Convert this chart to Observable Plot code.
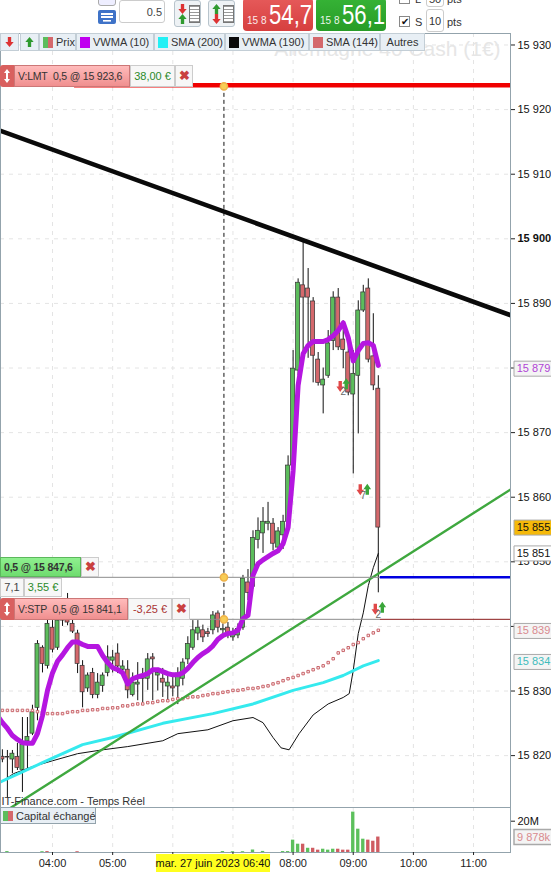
<!DOCTYPE html>
<html><head><meta charset="utf-8">
<script src="https://cdn.jsdelivr.net/npm/d3@7"></script>
<script src="https://cdn.jsdelivr.net/npm/@observablehq/plot@0.6"></script>
<style>
html,body{margin:0;padding:0;background:#fff}
#page{position:relative;width:551px;height:872px;overflow:hidden;font-family:"Liberation Sans",Arial,sans-serif;font-size:11px;color:#333}
#page svg.plot{position:absolute;left:0;background:transparent}
.b{position:absolute;box-sizing:border-box;white-space:nowrap;display:flex;align-items:center}
</style></head><body><div id="page"></div>
<script>
// ---------- data ----------
const candleTime=["03:10","03:15","03:20","03:25","03:30","03:35","03:40","03:45","03:50","03:55",
"04:00","04:05","04:10","04:15","04:20","04:25","04:30","04:35","04:40","04:45","04:50","04:55",
"05:00","05:05","05:10","05:15","05:20","05:25","05:30","05:35","05:40","05:45","05:50","05:55",
"06:00","06:05","06:10","06:15","06:20","06:25","06:30","06:35","06:40","06:45","06:50","06:55",
"07:00","07:05","07:10","07:15","07:20","07:25","07:30","07:35","07:40","07:45","07:50","07:55",
"08:00","08:05","08:10","08:15","08:20","08:25","08:30","08:35","08:40","08:45","08:50","08:55",
"09:00","09:05","09:10","09:15","09:20","09:25"];
const candleOpen=[15819.8,15819.8,15819.4,15819.8,15817.8,15822.2,15823.4,15827.4,15836.7,15833.9,
15839.8,15836.7,15842,15842,15840.4,15838.9,15833.9,15830.4,15832.8,15829.4,15830.8,15832.8,
15834.7,15835.8,15833.3,15833.3,15829.4,15831,15831.9,15831.9,15835.2,15832.4,15831.9,15830.7,
15830.7,15830.7,15831.9,15834.9,15836.7,15838.9,15839.4,15839.1,15839.4,15842,15839.4,15839.8,
15838.3,15838.6,15839.8,15846.8,15846.1,15853.4,15854.4,15855.9,15855.9,15852.2,15854.1,15856.2,
15864.9,15879.6,15892.8,15892.3,15890.3,15881.3,15877.3,15878.8,15884.2,15890.9,15884.4,15882.4,
15875.9,15878.8,15888.9,15892.3,15881.8,15876.8];
const candleHigh=[15820.9,15820.8,15820.8,15821.9,15825.9,15825.9,15827.8,15837.8,15837,15842.4,
15840.9,15843.2,15843.2,15845.1,15841.2,15839.4,15834.7,15832.8,15833.5,15832.7,15832.8,15837,
15836.3,15837.3,15834.7,15834.7,15832.8,15834.4,15833.5,15835.8,15835.8,15833.5,15833.5,15832.4,
15832.4,15833.6,15835,15838.4,15840.9,15840.9,15840.2,15839.7,15842.3,15842.4,15840.4,15840.6,
15839.7,15840.4,15847.9,15848.8,15854.8,15856.8,15858.4,15859.2,15856.7,15855.3,15857.2,15866.4,
15882.7,15893.8,15899.6,15895.4,15890.9,15882.4,15880,15885.8,15891.8,15892.3,15887.3,15884.2,
15882.7,15890.4,15892.8,15893.8,15888.4,15878.8];
const candleLow=[15818.9,15813.5,15817.2,15817.7,15814.3,15818,15823.1,15825.4,15832.8,15833.4,
15835.9,15836.3,15840,15840.1,15838.9,15832.7,15827.4,15829.8,15828.8,15828.8,15829.8,15832.2,
15832.8,15832.7,15832.2,15828.8,15829.1,15828.5,15828.2,15830.1,15828.5,15830,15829,15828.5,
15829.1,15827.9,15830.8,15834.1,15836.3,15837.8,15837.5,15838.3,15838.7,15839,15838.4,15838.1,
15837.7,15838.1,15839.4,15844,15845.8,15852,15851.3,15854.8,15851.7,15851.4,15851.9,15854.8,
15864.1,15878.8,15881.5,15881.5,15877.7,15877.2,15872.9,15878.4,15882.7,15882.7,15879.9,15875.7,
15863.6,15869.8,15888.6,15880.8,15876.5,15845.2];
const candleClose=[15819.4,15819.7,15820.3,15818.1,15821.7,15822.9,15826.7,15837.3,15834.2,15840.4,
15836.4,15840.9,15840.9,15840.6,15839.2,15834.2,15829.8,15832.4,15829.4,15831.3,15832.4,15835.2,
15835.2,15833.8,15833.8,15830.1,15831.3,15831.3,15832.2,15834.9,15834.9,15832.8,15831.3,15831.3,
15830.4,15832.7,15834.4,15837.3,15839.4,15839.8,15838.3,15838.8,15841.7,15839.8,15839.6,15839,
15839,15839.6,15847.4,15845.2,15853.7,15854.8,15856.2,15856.2,15852.8,15854.7,15856.2,15864.9,
15879.9,15893.2,15890.9,15890.9,15881.9,15877.7,15878.2,15883.8,15890.9,15883.2,15882.8,15876.2,
15879.1,15888.9,15891.7,15881.3,15877.3,15855.3];

const lineTime=["03:05",...candleTime];
const vwma10=[15826.2,15825.1,15824.2,15823.1,15822.5,15822,15821.9,15821.9,15823.4,15826.2,15830.1,
15832.8,15834.6,15835.6,15836.7,15837.6,15837.6,15837.2,15836.9,15836.9,15836.9,15835.5,15834.4,
15833.6,15833.3,15832.8,15831.1,15831.9,15832.2,15832.4,15832.7,15833.3,15833.3,15833,15832.7,
15832.5,15832.5,15832.8,15833.5,15834.4,15835.2,15835.8,15836.3,15837,15838,15838.6,15838.9,
15839,15839.4,15841.2,15841.7,15847.9,15849.7,15850.3,15850.8,15851.3,15851.7,15852.8,15855.3,
15864.1,15877.3,15882.2,15883.5,15884.1,15884.1,15884.1,15884.4,15885,15885.8,15887,15884.7,
15881.1,15882.7,15883.8,15883.9,15883.5,15880.4];
const sma144=[15827,15827,15827,15827,15827,15827,15827,15827,15826.8,15826.7,15826.5,15826.5,15826.5,
15826.5,15826.7,15826.8,15826.8,15827,15827,15827.1,15827.1,15827.3,15827.3,15827.4,15827.4,15827.7,
15827.7,15827.9,15828,15828,15828.2,15828.2,15828.4,15828.5,15828.5,15828.7,15828.8,15828.8,15829,
15829.1,15829.1,15829.3,15829.4,15829.6,15829.6,15829.8,15829.9,15830.1,15830.1,15830.2,15830.4,
15830.4,15830.5,15830.7,15830.8,15831.1,15831.3,15831.6,15831.9,15832.1,15832.4,15832.7,15833,
15833.3,15833.6,15833.9,15834.4,15835,15835.9,15836.3,15836.7,15837.2,15837.5,15838.1,15838.6,
15839,15839.4];

const sma200Time=["03:05","03:30","03:50","04:30","05:00","05:50","06:40","07:20","08:00","08:30","08:50","09:10","09:25"];
const sma200=[15815.7,15817.5,15818.9,15821.7,15822.8,15825,15826.5,15828,15830.1,15831.3,15832.4,15833.9,15834.7];

const vwma190Time=["03:05","03:21","03:40","04:00","04:25","04:50","05:15","05:50","06:05","06:35","07:00","07:20","07:30","07:40","07:48","07:56","08:06","08:20","08:35","08:50","08:56","09:00","09:05","09:10","09:15","09:20","09:25"];
const vwma190=[15815.5,15817.2,15818.3,15819.2,15820.3,15820.9,15821.4,15822.3,15823.4,15824,15825.4,15825.9,15825.1,15822.8,15821.2,15820.9,15823.4,15826.3,15828,15829,15829.6,15833.2,15838.9,15842.1,15846.3,15849.1,15851.3];

const blackTrendTime=["03:05","11:40"], blackTrend=[15916.9,15888];
const greenTrendTime=["03:15","11:40"], greenTrend=[15811.6,15861.5];

const volumeTime=["03:15","03:50","03:55","04:25","06:50","07:00","07:10","07:20","07:30","07:50","07:55","08:00","08:05","08:10","08:15","08:20","08:25","08:30","08:35","08:40","08:45","08:50","08:55","09:00","09:05","09:10","09:15","09:20","09:25"];
const volumeValue=[0.6,0.5,0.6,0.5,0.6,0.5,0.5,1.6,0.7,0.6,0.6,7.9,5.3,5.3,2.7,2.7,1.5,2.1,1.5,2.1,2.1,1.5,1.5,25.8,14.9,8.5,7.9,7.2,9.878];
const volumeUp=[1,1,0,0,1,1,1,1,1,1,1,1,1,0,1,0,0,1,1,1,0,0,0,1,1,1,0,0,0];

const orderPrice=[15923.6,15847.6,15841.1];
const orderTime="06:51";
const priceTicks=[15930,15920,15910,15890,15880,15870,15860,15850,15840,15830,15820];
const hiddenPriceLabels=[15880,15840];
const boldTick=[15900];
const hourTicks=["04:00","05:00","06:00","07:00","08:00","09:00","10:00","11:00"];
const hiddenHourLabels=["06:00","07:00"];
const tagPrice=[15879.9,15855.3,15851.3,15839.3,15834.5];
const tagText=["15 879","15 855","15 851","15 839","15 834"];
const tagColor=["#b144d6","#111","#111","#d98a8f","#3fbcbc"];
const tagFill=["#f4f4f4","#f5b90a","#fff","#f4f4f4","#f4f4f4"];

const sellTime=["08:47","09:07","09:22"], sellPrice=[15878,15862,15843.5];
const buyTime=["08:53","09:14","09:29"], buyPrice=[15878.4,15862.1,15843.8];
const tradeTime=["08:50","09:10","09:25"], tradePrice=[15876.3,15860.2,15841.8], tradeCount=["2","7","2"];

// ---------- helpers ----------
const T=s=>new Date(`2023-06-27T${s}:00Z`);
const fmt=v=>hiddenPriceLabels.includes(v)?"":String(v).slice(0,2)+" "+String(v).slice(2);
const hourFmt=d=>{const s=d3.utcFormat("%H:%M")(d);return hiddenHourLabels.includes(s)?"":s;};
const candles=candleTime.map((t,i)=>({t:T(t),o:candleOpen[i],h:candleHigh[i],l:candleLow[i],c:candleClose[i]}));
const series=(ts,vs)=>ts.map((t,i)=>({t:T(t),v:vs[i]}));
const GREEN="#5cbd5c",RED="#d4686c",FRAME="#93a3ac",GRID="#e4e4e4";
const xDomain=[new Date("2023-06-27T03:08:07Z"),new Date("2023-06-27T11:36:52Z")];
const font="'Liberation Sans',Arial,sans-serif";
const min2=120000;
const arrowShape=dir=>({draw(c,l){const s=dir,h=l/2;
  c.moveTo(-1.7,s*h);c.lineTo(1.7,s*h);c.lineTo(1.7,0);c.lineTo(3.8,0);c.lineTo(0,-s*h);c.lineTo(-3.8,0);c.lineTo(-1.7,0);c.closePath();}});
const tagSymbol={draw(c){c.rect(-18.5,-7.5,38,15);}};
const gridXm=()=>Plot.ruleX(hourTicks,{x:T,stroke:GRID,strokeDasharray:"4,5"});

const main=Plot.plot({
  width:551,height:807,marginTop:33,marginBottom:0,marginLeft:0,marginRight:41,
  style:{fontFamily:font,fontSize:"11px",background:"transparent",color:"#222",overflow:"visible"},
  x:{type:"utc",domain:xDomain,axis:null},
  y:{domain:[15811.97,15931.78],axis:null},
  marks:[
    gridXm(),
    Plot.ruleY([...priceTicks,...boldTick],{y:d=>d,stroke:GRID,strokeDasharray:"4,5"}),
    Plot.text(["Allemagne 40 Cash (1€)"],{x:T("11:27"),y:15929.4,textAnchor:"end",fontSize:21,fill:"#e6e6e6"}),
    Plot.ruleX(candles,{x:"t",y1:"l",y2:"h",stroke:"#111",strokeWidth:1}),
    Plot.rect(candles,{x1:d=>new Date(+d.t-min2),x2:d=>new Date(+d.t+min2),y1:"o",y2:"c",
      fill:d=>d.c>=d.o?GREEN:RED,stroke:"#333",strokeWidth:.7}),
    Plot.lineY(series(vwma190Time,vwma190),{x:"t",y:"v",stroke:"#111",strokeWidth:1,clip:true}),
    Plot.lineY(series(sma200Time,sma200),{x:"t",y:"v",stroke:"#35eaee",strokeWidth:3,clip:true}),
    Plot.dot(series(lineTime,sma144),{x:"t",y:"v",symbol:"square",r:1.4,fill:"#fbeaea",stroke:"#c9666c",strokeWidth:1,clip:true}),
    Plot.lineY(series(greenTrendTime,greenTrend),{x:"t",y:"v",stroke:"#3fa83f",strokeWidth:2.4,clip:true}),
    Plot.lineY(series(lineTime,vwma10),{x:"t",y:"v",stroke:"#b516e0",strokeWidth:5,strokeLinejoin:"round",clip:true}),
    Plot.lineY(series(blackTrendTime,blackTrend),{x:"t",y:"v",stroke:"#0a0a0a",strokeWidth:4.6,clip:true}),
    // order lines
    Plot.ruleY([orderPrice[1],orderPrice[2]],{x1:xDomain[0],x2:T("09:27"),y:d=>d,stroke:"#8c8c8c",strokeWidth:1}),
    Plot.ruleY([orderPrice[0]],{x1:T("04:22"),x2:xDomain[1],y:d=>d,dy:-1,stroke:"#f00000",strokeWidth:4.5}),
    Plot.ruleY([orderPrice[1]],{x1:T("09:27"),x2:xDomain[1],y:d=>d,stroke:"#0000e0",strokeWidth:2.4}),
    Plot.ruleY([orderPrice[2]],{x1:T("09:27"),x2:xDomain[1],y:d=>d,stroke:"#8a1a1a",strokeWidth:1}),
    Plot.ruleX([T(orderTime)],{y1:orderPrice[0],y2:orderPrice[2],stroke:"#111",strokeDasharray:"4,3"}),
    Plot.dot(orderPrice,{x:T(orderTime),y:d=>d,r:3.6,fill:"#f8cd55",stroke:"#eeb24a"}),
    // trade markers
    Plot.vector(sellPrice,{x:(d,i)=>T(sellTime[i]),y:d=>d,length:11,anchor:"middle",shape:arrowShape(-1),fill:"#e04848",stroke:"none"}),
    Plot.vector(buyPrice,{x:(d,i)=>T(buyTime[i]),y:d=>d,length:11,anchor:"middle",shape:arrowShape(1),fill:"#3aa63a",stroke:"none"}),
    Plot.text(tradePrice,{x:(d,i)=>T(tradeTime[i]),y:d=>d,text:(d,i)=>tradeCount[i],fontSize:10,fill:"#666"}),
    Plot.text(["IT-Finance.com - Temps Réel"],{x:xDomain[0],dx:1,y:15812.9,textAnchor:"start",fill:"#333",fontSize:11}),
    Plot.frame({stroke:FRAME}),
    Plot.axisY({anchor:"right",ticks:priceTicks,tickFormat:fmt,tickSize:4,tickPadding:3,textAnchor:"start",label:null,fill:"#111",fontSize:11}),
    Plot.axisY({anchor:"right",ticks:boldTick,tickFormat:fmt,tickSize:4,tickPadding:3,textAnchor:"start",label:null,fill:"#111",fontSize:11,fontWeight:"bold"}),
    Plot.dot(tagPrice,{y:d=>d,frameAnchor:"right",dx:22,symbol:tagSymbol,fill:(d,i)=>tagFill[i],stroke:"#a9a9a9",strokeWidth:1}),
    Plot.text(tagPrice,{y:d=>d,frameAnchor:"right",dx:23,textAnchor:"middle",text:(d,i)=>tagText[i],fill:(d,i)=>tagColor[i],fontSize:11}),
  ]
});
main.style.top="0px";

const bars=volumeTime.map((t,i)=>({t:T(t),v:volumeValue[i],up:volumeUp[i]}));
const vol=Plot.plot({
  width:551,height:65,marginTop:0,marginBottom:20,marginLeft:0,marginRight:41,
  style:{fontFamily:font,fontSize:"11px",background:"transparent",color:"#222",overflow:"visible"},
  x:{type:"utc",domain:xDomain,axis:null},
  y:{domain:[0,28.75],axis:null},
  marks:[
    gridXm(),
    Plot.rect(bars,{x1:d=>new Date(+d.t-min2+20000),x2:d=>new Date(+d.t+min2-20000),y1:0,y2:"v",fill:d=>d.up?"#5cc05c":"#cf5c62"}),
    Plot.frame({stroke:FRAME}),
    Plot.axisX({ticks:hourTicks.map(T),tickFormat:hourFmt,tickSize:3,tickPadding:4,label:null,fill:"#222",fontSize:11}),
    Plot.axisY({anchor:"right",ticks:[20],tickFormat:d=>d+"M",tickSize:4,tickPadding:3,textAnchor:"start",label:null,fill:"#111",fontSize:11}),
    Plot.dot([9.878],{y:d=>d,frameAnchor:"right",dx:22,symbol:tagSymbol,fill:"#f4f4f4",stroke:"#a9a9a9"}),
    Plot.text([9.878],{y:d=>d,frameAnchor:"right",dx:23,textAnchor:"middle",text:()=>"9 878k",fill:"#d98a8f",fontSize:11}),
  ]
});
vol.style.top="807px";

// ---------- page furniture ----------
const page=document.getElementById("page");
page.append(main,vol);
const yPx=p=>main.scale("y").apply(p);
function box(l,t,w,h,html,css=""){
  const d=document.createElement("div");d.className="b";
  d.style.cssText=`left:${l}px;top:${t}px;width:${w}px;height:${h}px;${css}`;
  d.innerHTML=html;page.append(d);return d;
}
const arrowSvg=(w,h,up,color)=>`<svg width="${w}" height="${h}" viewBox="0 0 10 12" style="display:block"><path d="${up?"M5 0L10 6H7V12H3V6H0Z":"M5 12L10 6H7V0H3V6H0Z"}" fill="${color}"/></svg>`;
const quote=(p1,p2,bg)=>`<span style="font-size:10px;position:absolute;left:4px;top:17px;color:#fff;opacity:.9">${p1}</span><span style="position:absolute;left:26px;top:2px;font-size:27px;line-height:30px;transform:scaleX(.82);transform-origin:left;color:#fff">${p2}</span>`;
const LEG="background:#e8eff5;border:1px solid #c3ced6;";
// toolbar
box(98,-6,18,12,"", "background:#eef;border:1px solid #aaa;border-radius:3px");
box(98,10,18,14,`<svg width="18" height="14"><rect width="18" height="14" rx="2" fill="#3f73c8"/><g fill="#fff"><rect x="3" y="3" width="12" height="2"/><rect x="3" y="6" width="12" height="2"/><rect x="5" y="10" width="8" height="1.6"/></g></svg>`);
box(119,0,46,23,"0.5","border:1px solid #ccc;border-radius:3px;justify-content:flex-end;padding-right:2px;color:#444;background:#fff;font-size:11px");
[[174,0],[208,1]].forEach(([x,f])=>box(x,0,27,27,
 `<div style="display:flex;flex-direction:column;margin-left:3px">${arrowSvg(9,10,!!f,f?"#2f9a2f":"#d33")}${arrowSvg(9,10,!f,f?"#d33":"#2f9a2f")}</div><div style="margin-left:2px;width:10px;height:16px;border:1px solid #777;background:repeating-linear-gradient(#999 0 1px,#fff 1px 3px)"></div>`,
 "border:1px solid #b8c4cc;border-radius:3px;background:#eef2f5"));
box(243,-2,70,33,quote("15 8","54,7"),"background:linear-gradient(#e65a5a,#d63f3f);border-radius:4px");
box(316,-2,70,33,quote("15 8","56,1"),"background:linear-gradient(#36b336,#279c27);border-radius:4px");
box(399,-7,11,11,"","border:1px solid #888;background:#fff;justify-content:center;font-size:10px");
box(399,16,11,11,"✔","border:1px solid #888;background:#fff;justify-content:center;font-size:10px;color:#111");
box(415,-7,12,12,"L","color:#333");box(415,15,12,14,"S","color:#333");
box(426,-10,18,17,"50","border:1px solid #ccc;border-radius:3px;justify-content:center;background:#fff");
box(426,9,18,23,"10","border:1px solid #ccc;border-radius:3px;justify-content:center;background:#fff");
box(447,-7,22,12,"pts");box(447,15,22,14,"pts");
// legend
box(0,33,19,18,arrowSvg(9,10,false,"#d33"),LEG+"justify-content:center;");
box(20,33,19,18,arrowSvg(9,10,true,"#2f9a2f"),LEG+"justify-content:center;");
const legend=[[39,37,"Prix","linear-gradient(90deg,#5cbd5c 50%,#d4686c 50%)"],[76,78,"VWMA (10)","#c000f0"],[154,71,"SMA (200)","#22f0f5"],[225,84,"VWMA (190)","#0a0a0a"],[309,71,"SMA (144)","#d4686c"]];
legend.forEach(([x,w,t,c])=>box(x,33,w,18,`<span style="width:10px;height:11px;background:${c};margin:0 3px 0 3px;flex:none"></span><span>${t}</span>`,LEG));
box(380,33,45,18,"Autres",LEG+"justify-content:center;");
// order tags
const X=`<span style="color:#c9403f;font-size:13px;font-weight:bold">✖</span>`;
const handle=`<svg width="6" height="14"><path d="M3 0L6 4H4V10H6L3 14L0 10H2V4H0Z" fill="#fff"/></svg>`;
const TAG="background:#f7f7f7;border:1px solid #ccc;justify-content:center;";
const PINK="background:linear-gradient(#fbb,#f08f8f);border:1px solid #c77;font-size:10.5px;letter-spacing:-.2px;";
const ly=yPx(orderPrice[0])-1;
box(0,ly-20,14,22,handle,"background:#d9605f;justify-content:center;border-radius:3px 0 0 3px");
box(14,ly-20,116,22,"V:LMT&nbsp; 0,5 @ 15 923,6",PINK+"padding-left:3px;");
box(130,ly-20,45,22,`<span style="color:#2a8a2a">38,00 €</span>`,TAG);
box(175,ly-20,18,22,X,TAG);
const gy=yPx(orderPrice[1]);
box(0,gy-20,81,20,`<b style="font-weight:bold">0,5 @ 15 847,6</b>`,"background:linear-gradient(#8ff08f,#6fdc6f);border:1px solid #5cb85c;padding-left:3px;font-size:10.5px;letter-spacing:-.2px;");
box(81,gy-20,18,20,X,TAG);
box(0,gy+1,24,19,`<span style="color:#444">7,1</span>`,TAG);
box(24,gy+1,38,19,`<span style="color:#2a8a2a">3,55 €</span>`,TAG);
const sy=yPx(orderPrice[2]);
box(0,sy-21,14,22,handle,"background:#d9605f;justify-content:center;border-radius:3px 0 0 3px");
box(14,sy-21,114,22,"V:STP&nbsp; 0,5 @ 15 841,1",PINK+"padding-left:3px;");
box(128,sy-21,44,22,`<span style="color:#a33">-3,25 €</span>`,TAG);
box(172,sy-21,18,22,X,TAG);
// capital panel legend + crosshair date
box(0,807,96,17,`<span style="width:10px;height:10px;background:linear-gradient(90deg,#5cbd5c 50%,#d4686c 50%);margin:0 3px 0 2px;flex:none"></span><span>Capital échangé</span>`,"background:#e8eff5;border:1px solid #93a3ac;");
box(156,854,114,18,"mar. 27 juin 2023 06:40","background:#ffff1e;color:#111;justify-content:center;");
</script></body></html>
